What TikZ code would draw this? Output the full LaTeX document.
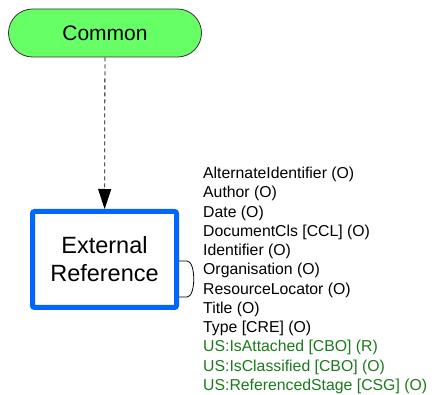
\documentclass[tikz,border=0pt]{standalone}
\usepackage{fontspec}
\setmainfont{Liberation Sans}
\usepackage{xcolor}
\usepackage{tikz}
\usetikzlibrary{arrows.meta,calc}

\definecolor{commongreen}{HTML}{66FF66}
\definecolor{extblue}{HTML}{0066FF}
\definecolor{attrgreen}{HTML}{1A7A1A}

\begin{document}
\begin{tikzpicture}[x=1pt, y=-1pt]
\tikzset{
	parent node/.style = {rectangle, draw = black!80, fill = commongreen, line width = 0.8,
		rounded corners = 24, minimum width = 193, minimum height = 48,
		font = \fontsize{21}{25}\selectfont},
	entity node/.style = {rectangle, draw = extblue, line width = 5, rounded corners = 2,
		minimum width = 144, minimum height = 96, align = center,
		font = \fontsize{23.5}{28}\selectfont},
	attr list/.style = {inner sep = 0, align = left, anchor = north west,
		font = \fontsize{15.8}{19.24}\selectfont},
	inherit/.style = {dash pattern = on 4 off 3, line width = 0.8,
		-{Triangle[length = 20, width = 13]}},
}
\useasboundingbox (0,0) rectangle (434,395);

\node(common)[parent node] at (105,33) {Common};
\node(ext)[entity node] at (104.5,259.5) {External\\Reference};

\draw [inherit] (common) -- (ext);

\node(attrs)[attr list] at (203,167) {AlternateIdentifier (O)\\
	Author (O)\\
	Date (O)\\
	DocumentCls [CCL] (O)\\
	Identifier (O)\\
	Organisation (O)\\
	ResourceLocator (O)\\
	Title (O)\\
	Type [CRE] (O)\\
	\textcolor{attrgreen}{US:IsAttached [CBO] (R)}\\
	\textcolor{attrgreen}{US:IsClassified [CBO] (O)}\\
	\textcolor{attrgreen}{US:ReferencedStage [CSG] (O)}};

% bracket tying the attributes to the box
\draw [line width = 0.8] ($(ext.east)+(0,1.5)$) -- ++(8,0)
	.. controls +(9,0) and +(9,0) .. ($(ext.east)+(8,37.5)$) -- ++(-8,0);

\end{tikzpicture}
\end{document}
